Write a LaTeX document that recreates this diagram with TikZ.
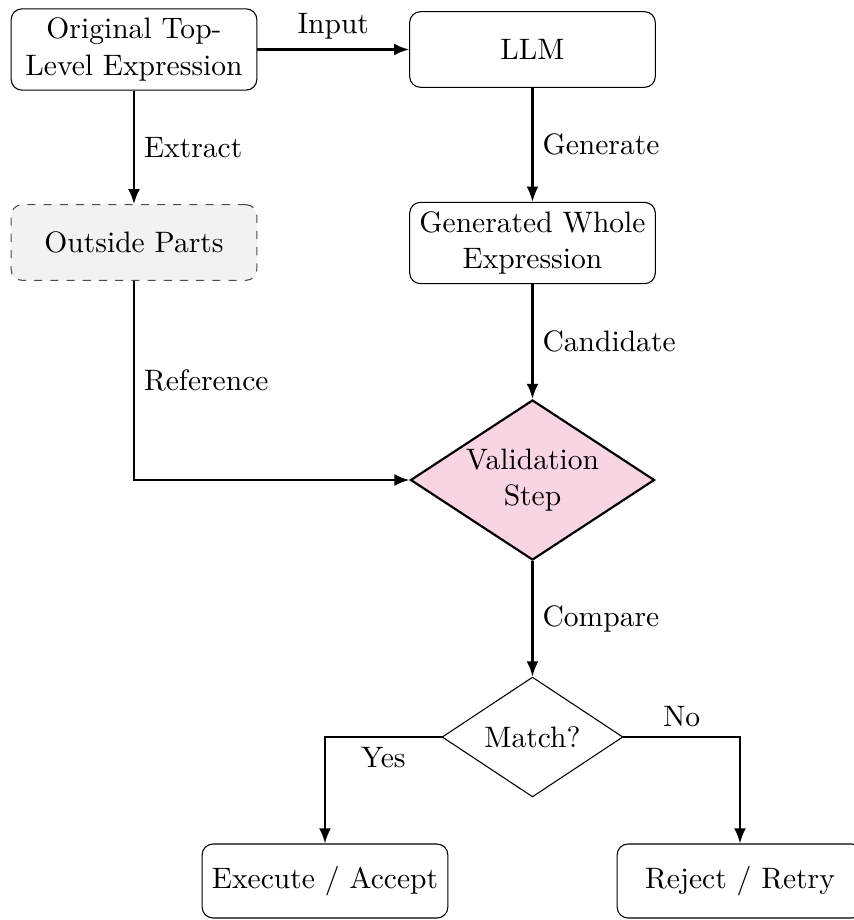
\documentclass[tikz,border=0pt]{standalone}
\usetikzlibrary{shapes.geometric,arrows.meta}
\definecolor{valpink}{RGB}{249,212,229}
\begin{document}
\begin{tikzpicture}[x=0.3704pt,y=-0.3704pt,
  font=\fontsize{10.95}{13.6}\selectfont,
  box/.style={draw,rounded corners=4pt,minimum width=91pt,minimum height=28pt,align=center},
  dbox/.style={box,dashed,draw=black!70,fill=black!5},
  valdia/.style={diamond,draw,thick,fill=valpink,aspect=1.52,minimum width=90.4pt,minimum height=59.3pt,inner sep=0pt,align=center},
  matchdia/.style={diamond,draw,aspect=1.5,minimum width=67pt,minimum height=44.4pt,inner sep=0pt,align=center},
  arr/.style={draw,thick,-{Latex[length=5.6pt,width=4.4pt]}},
  lab/.style={inner sep=3.33pt}
]
\useasboundingbox (0,0) rectangle (853,920);
\node[box,minimum height=30pt] (orig) at (134,49.5) {Original Top-\\Level Expression};
\node[box] (llm) at (532.5,49.5) {LLM};
\node[dbox] (out) at (134,242.5) {Outside Parts};
\node[box,minimum height=29.6pt] (gen) at (532.5,243) {Generated Whole\\Expression};
\node[valdia] (val) at (532.5,480) {Validation\\Step};
\node[matchdia] (match) at (532.5,737) {Match?};
\node[box,minimum height=27.4pt] (exec) at (325,881) {Execute / Accept};
\node[box,minimum height=27.4pt] (rej) at (740,881) {Reject / Retry};

\draw[arr] (orig.east) -- node[lab,above] {Input} (llm.west);
\draw[arr] (orig.south) -- node[lab,right] {Extract} (out.north);
\draw[arr] (llm.south) -- node[lab,right] {Generate} (gen.north);
\draw[arr] (gen.south) -- node[lab,right] {Candidate} (val.north);
\draw[arr] (out.south) |- node[lab,right,pos=0.25] {Reference} (val.west);
\draw[arr] (val.south) -- node[lab,right] {Compare} (match.north);
\draw[arr] (match.west) -| node[lab,below,pos=0.25] {Yes} (exec.north);
\draw[arr] (match.east) -| node[lab,above,pos=0.25] {No} (rej.north);
\end{tikzpicture}
\end{document}
